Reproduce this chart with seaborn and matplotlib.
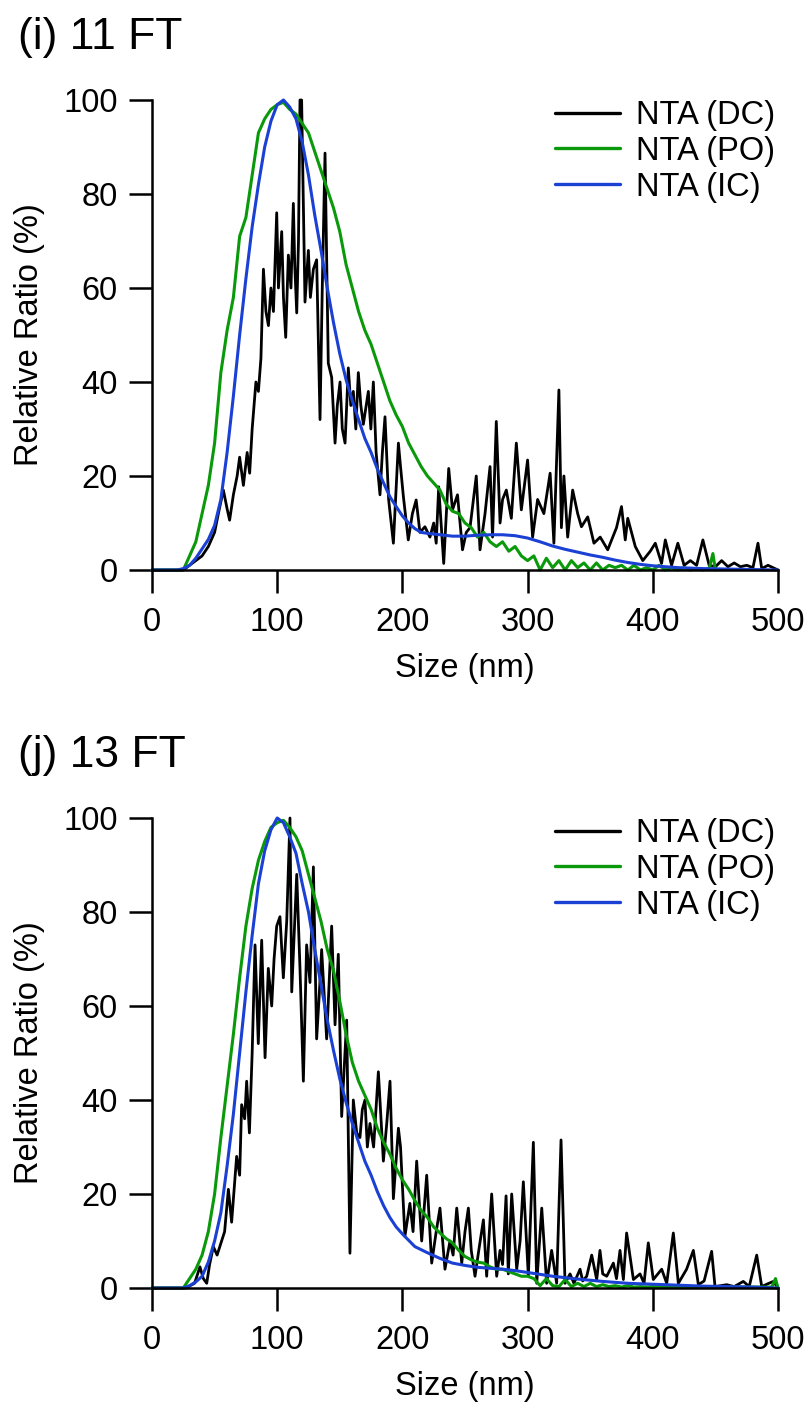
import matplotlib
matplotlib.use("Agg")
import matplotlib.pyplot as plt
import seaborn as sns
import pandas as pd

# ---------------- data ----------------
panel_titles = ["(i) 11 FT", "(j) 13 FT"]
series_labels = ["NTA (DC)", "NTA (PO)", "NTA (IC)"]
x_ticks = [0, 100, 200, 300, 400, 500]
y_ticks = [0, 20, 40, 60, 80, 100]

# Panel (i) - DC (size nm, relative %)
dc1_points = [(0, 0), (25, 0), (30, 1), (35, 2), (40, 3), (45, 5), (50, 8), (53, 12), (57, 17), (60, 13),
              (62, 10.6), (65, 16), (68, 20), (70, 24), (73, 18), (76, 25), (78, 20.6), (80, 30), (83, 40),
              (85, 38), (87, 45), (89, 64), (91, 55), (93, 52), (95, 60), (97, 55), (99.6, 76), (101, 60),
              (103.6, 72), (105, 58), (106.8, 49.5), (108.9, 67), (111, 60), (112.9, 78), (114, 65),
              (115.6, 54.7), (117, 70), (118.2, 100), (119.5, 100), (122.2, 57), (124.9, 68), (126.5, 58),
              (128.9, 64), (131.5, 66), (134.2, 32), (136, 60), (138.2, 88.7), (140.8, 44), (143.5, 41),
              (146.2, 27), (148, 35), (150.2, 40), (152, 30), (154.2, 27), (156.8, 43), (158.8, 35),
              (160.8, 38), (162.8, 30), (164.8, 42), (166.8, 35), (168.8, 31), (172.8, 38), (174.8, 30),
              (176.8, 40), (179, 25), (182.1, 16), (184, 25), (186.1, 32.6), (189, 15), (192.8, 5.7),
              (196.8, 27), (198.5, 22), (200.8, 15.6), (204.7, 6.4), (208, 12), (211, 14.9), (214, 8),
              (218, 9.2), (222, 7), (225, 10), (227, 5.7), (229, 17.7), (233, 1.4), (237, 21.6), (240, 12.8),
              (244, 16), (248, 4.3), (251, 8), (254, 9), (259, 20), (262, 4.3), (266, 12), (270, 22), (272, 7),
              (275, 31.6), (278, 10), (280, 15), (283, 17), (287, 11), (291, 27), (295, 12.8), (300, 23.4),
              (304, 7), (308, 15), (313, 12), (318, 20.6), (321, 5.7), (325, 38.3), (327, 9), (329, 20),
              (332, 7), (336, 17), (340, 12), (343, 9.2), (348, 11.3), (353, 5.7), (358, 7), (364, 4.3),
              (368, 7), (371, 9), (375, 13.5), (378, 6.4), (380, 11), (386, 5), (392, 2), (398, 4),
              (402, 5.7), (407, 1.4), (410, 6.4), (415, 1), (420, 5.7), (425, 1), (430, 2), (435, 1),
              (440, 6.4), (445, 1), (450, 0.7), (455, 2), (460, 0.7), (465, 1.5), (470, 0.7), (475, 1),
              (480, 0.5), (484, 5.7), (487, 0.3), (492, 1), (500, 0)]

# Panel (i) - PO
po1_size = list(range(0, 450, 5)) + [448, 450]
po1_val = [0, 0, 0, 0, 0, 0, 3, 6, 12, 18, 27, 42, 51, 58, 71, 75, 84, 93, 96, 98,
           99, 99.5, 98, 97, 95, 93, 89, 85, 81, 77, 72, 65, 60, 55, 51, 48, 44, 40, 36, 33,
           30.5, 27, 24.5, 22, 20, 18.5, 17, 14, 12.5, 12, 10, 9, 7, 8, 6, 5, 6, 4, 5, 3,
           2, 3, 0, 2.5, 0.5, 2, 0, 2, 0.5, 1.5, 0, 1.5, 0, 1, 0.5, 1, 0, 1, 0, 0.5,
           0, 1, 0, 0.5, 0, 0.5, 0, 0.3, 0, 0.3, 3.5, 0]

# Panel (i) - IC
ic1_size = [0, 20, 25, 30, 35, 40, 45, 50, 55, 60, 65, 70, 75, 80, 85, 90, 95, 100, 105, 110, 115, 120,
            125, 130, 135, 140, 145, 150, 155, 160, 165, 170, 175, 180, 185, 190, 195, 200, 205, 210,
            215, 220, 230, 240, 250, 260, 270, 280, 290, 300, 310, 320, 330, 340, 350, 360, 370, 380,
            390, 400, 410, 420, 440, 460, 480, 500]
ic1_val = [0, 0, 0.3, 1, 2.5, 4.5, 6.5, 9.5, 15, 25, 37, 50, 62, 73, 82, 90, 95.5, 99, 100, 98.5, 96, 91,
           84, 75.5, 68, 60, 52.6, 46, 40.5, 36, 32, 28, 25, 21.5, 18.5, 15.6, 13.5, 11.5, 10, 8.8,
           8, 7.8, 7.5, 7.2, 7.2, 7.4, 7.5, 7.5, 7.3, 6.8, 6, 5.1, 4.4, 3.8, 3.2, 2.7, 2.1, 1.6,
           1.2, 0.9, 0.7, 0.5, 0.3, 0.2, 0.1, 0]

# Panel (j) - DC
dc2_points = [(0, 0), (28, 0), (30.4, 0.5), (34, 1), (38.3, 4.5), (41, 2), (43.7, 1), (46, 5), (49, 8.8),
              (52, 7), (55.6, 10), (58, 12), (61, 21), (63.6, 14), (67.6, 28), (70, 24), (71.6, 39), (74, 36),
              (75.6, 44), (77.8, 33), (80, 50), (82.3, 73), (84.9, 52), (87.6, 74), (90.3, 49), (92.9, 68),
              (95.6, 60), (97.5, 70), (99.6, 77), (102.2, 79), (104.9, 66), (107.6, 78), (110.2, 100),
              (111.6, 63), (113.5, 75), (115.6, 88), (118.2, 68), (120.9, 44), (123.5, 73), (126.2, 65),
              (128.9, 89.6), (131.5, 53), (133.5, 62), (135.5, 72), (139.5, 53), (141.5, 65), (143.5, 77),
              (146.2, 56), (148.8, 71), (151.5, 36.5), (155.5, 57), (158.1, 7.4), (160.8, 40), (163.5, 33),
              (166.1, 32), (168, 38), (170.1, 40), (172, 30), (174.1, 35), (177, 30), (180.8, 46),
              (184.8, 27), (187.5, 35), (190.1, 44), (192.8, 19), (196.8, 34), (198.5, 30), (202, 11),
              (206, 18), (208.5, 12), (211.4, 27), (215.4, 10), (219.4, 24), (223.4, 5.3), (227, 12),
              (230, 17), (234, 4), (238, 10), (240.5, 7), (243.4, 17), (247.4, 5.3), (250, 12), (252.7, 17),
              (255, 8), (258, 2.5), (261, 8), (264.7, 14.5), (267.3, 2.5), (271.3, 20), (275.3, 2.5),
              (278, 8), (280, 5), (282.8, 19.6), (284.6, 3), (287.3, 20), (291.3, 4), (294, 10),
              (296.6, 22.6), (300.6, 2.5), (304.6, 31), (307.3, 1), (311.3, 17), (315.2, 1), (319.2, 8),
              (323.2, 1), (326.7, 31.5), (329.9, 1), (333.9, 3), (337, 1), (341.9, 4), (344, 1.5),
              (347.2, 2.5), (351.2, 7), (355.2, 1.8), (357.8, 8), (360, 3), (363.2, 2.5), (368.5, 5.3),
              (371, 2), (373.8, 8), (376.5, 1.8), (379.1, 11.7), (384.5, 1.8), (389.8, 3), (393, 1),
              (396.4, 9.6), (400.4, 1.8), (407.1, 4), (411.1, 1), (416.4, 11.7), (420.4, 1), (427, 4),
              (432.4, 8), (436.4, 0.7), (441, 1.5), (447, 7.8), (449.7, 0.3), (459, 0.7), (465, 0.3),
              (472.3, 1.4), (477, 0.3), (483, 7), (487, 0.3), (491, 0.8), (496.3, 1.4), (500, 0)]

# Panel (j) - PO
po2_size = list(range(0, 500, 5)) + [498, 500]
po2_val = [0, 0, 0, 0, 0, 0, 2, 4, 7, 12, 20, 32, 43, 54, 66, 77, 85, 91, 95, 98,
           99, 99.5, 98, 96, 93, 88, 83, 78, 72, 67.5, 61, 54, 48, 44, 41, 38, 34, 31, 28.5, 25.5,
           23, 21, 18.6, 16.5, 15, 13, 11.7, 10.5, 9.6, 8, 6.7, 6, 5.5, 5.3, 4.5, 4, 4, 3.5, 3, 2.5,
           2.5, 2, 0.5, 2, 0.5, 0.3, 1.8, 0.3, 1, 0.3, 1, 0.3, 0.7, 0.3, 0.5, 0.2, 0.5, 0.2, 0.3, 0.2,
           0.3, 0.2, 0.3, 0.2, 0.2, 0.2, 0.2, 0.2, 0.2, 0.2, 0.2, 0.2, 0.2, 0.2, 0.2, 0.2, 0.2, 0.2, 0.2, 0.2,
           2, 0]

# Panel (j) - IC
ic2_size = [0, 25, 30, 35, 40, 45, 50, 55, 60, 65, 70, 75, 80, 85, 90, 95, 100, 105, 110, 115, 120, 125,
            130, 135, 140, 145, 150, 155, 160, 165, 170, 175, 180, 185, 190, 195, 200, 210, 220, 230, 240,
            250, 260, 270, 280, 290, 300, 320, 340, 360, 380, 400, 420, 440, 460, 480, 500]
ic2_val = [0, 0, 0.5, 1.3, 2.5, 5.5, 10, 16, 26, 37, 50, 63, 75, 86, 93, 97.5, 100, 99, 96, 92.5, 86, 80,
           72, 64.5, 57, 50.5, 44.5, 39.5, 35, 31, 27, 24, 20.5, 17.5, 15, 13, 11.5, 8.8, 7.5, 6.3, 5.3,
           4.8, 4.4, 4.2, 4, 3.7, 3.3, 2.5, 1.9, 1.4, 1, 0.8, 0.6, 0.4, 0.3, 0.2, 0]

# ---------------- style ----------------
sns.set_theme(style="ticks")
plt.rcParams["font.family"] = ["Liberation Sans", "DejaVu Sans"]
plt.rcParams["axes.linewidth"] = 1.8
for k in ["text.color", "axes.labelcolor", "xtick.color", "ytick.color", "axes.edgecolor"]:
    plt.rcParams[k] = "black"

colors = {"NTA (DC)": "#000000", "NTA (PO)": "#0a990a", "NTA (IC)": "#1a40d4"}
FS = 23.5

W, H = 809, 1414
fig = plt.figure(figsize=(W / 100, H / 100), dpi=100)

panels = [
    (panel_titles[0], dc1_points, (po1_size, po1_val), (ic1_size, ic1_val), 100, 570),
    (panel_titles[1], dc2_points, (po2_size, po2_val), (ic2_size, ic2_val), 818, 1288),
]

for title, dc_pts, po, ic, top_px, bot_px in panels:
    ax = fig.add_axes([152 / W, 1 - bot_px / H, 626 / W, (bot_px - top_px) / H])
    dc_df = pd.DataFrame(dc_pts, columns=["size", "ratio"])
    po_df = pd.DataFrame({"size": po[0], "ratio": po[1]})
    ic_df = pd.DataFrame({"size": ic[0], "ratio": ic[1]})

    sns.lineplot(data=dc_df, x="size", y="ratio", ax=ax, color=colors["NTA (DC)"], lw=2.0,
                 estimator=None, sort=False, label=series_labels[0], clip_on=False, zorder=2)
    sns.lineplot(data=po_df, x="size", y="ratio", ax=ax, color=colors["NTA (PO)"], lw=2.2,
                 estimator=None, sort=False, label=series_labels[1], clip_on=False, zorder=2.2)
    sns.lineplot(data=ic_df, x="size", y="ratio", ax=ax, color=colors["NTA (IC)"], lw=2.2,
                 estimator=None, sort=False, label=series_labels[2], clip_on=False, zorder=2.5)

    ax.set_xlim(0, 500)
    ax.set_ylim(0, 100)
    ax.set_xticks(x_ticks)
    ax.set_yticks(y_ticks)
    sns.despine(ax=ax)
    ax.tick_params(axis="both", direction="out", length=16.5, width=1.8, labelsize=FS, colors="black")
    ax.tick_params(axis="x", pad=10)
    ax.tick_params(axis="y", pad=8)
    ax.set_xlabel("Size (nm)", fontsize=FS, labelpad=11)
    ax.set_ylabel("Relative Ratio (%)", fontsize=FS, labelpad=13)

    leg = ax.legend(loc="upper left", bbox_to_anchor=(0.643, 1.0), frameon=False, fontsize=FS,
                    handlelength=2.0, handletextpad=0.5, labelspacing=0.15, borderpad=0,
                    borderaxespad=0)
    for line in leg.get_lines():
        line.set_linewidth(2.4)

    fig.text(18 / W, 1 - (top_px - 51) / H, title, fontsize=32, ha="left", va="baseline")

fig.savefig("out.png", dpi=100)
